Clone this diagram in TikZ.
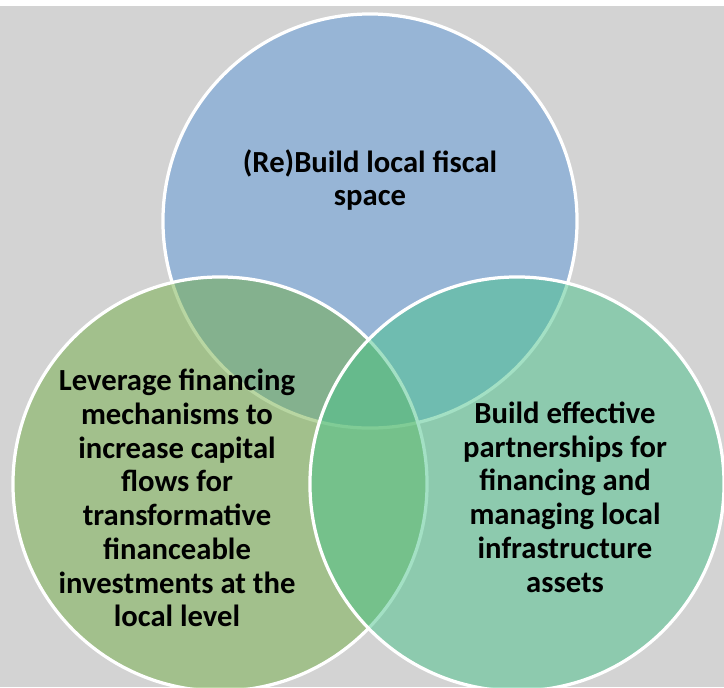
\documentclass[tikz,border=0pt]{standalone}
\usepackage{fontspec}
\setmainfont{Carlito}
\usepackage{xcolor}
\usepackage{tikz}
\usetikzlibrary{positioning}

\definecolor{vennbg}{RGB}{211,211,211}
\definecolor{fiscalblue}{RGB}{93,153,217}
\definecolor{leveragegreen}{RGB}{115,175,71}
\definecolor{partnerteal}{RGB}{73,195,139}

\begin{document}
\begin{tikzpicture}[
			x=0.025cm,
			y=-0.025cm,
			venn/.style={
				circle,
				draw=white,
				line width=2.3pt,
				fill opacity=0.5,
				minimum size=10.35cm,
				inner sep=0pt
			},
			venntext/.style={
				align=center,
				inner sep=0pt,
				font=\fontsize{21.8}{24}\selectfont\bfseries
			}
			]
			
			%=====================================================================
			% Background
			%=====================================================================
			
			\useasboundingbox (0,0) rectangle (724,687);
			\fill[white] (0,0) rectangle (724,6);
			\fill[vennbg] (0,6) rectangle (724,687);
			
			%=====================================================================
			% Circles
			%=====================================================================
			
			\node[venn, fill=fiscalblue] (fiscal) at (370,221) {};
			\node[venn, fill=leveragegreen] (leverage) at (220,484) {};
			\node[venn, fill=partnerteal] (partner) at (517,484) {};
			
			%=====================================================================
			% Texts
			%=====================================================================
			
			\node[venntext] (fiscaltext) at (370,180)
			{(Re)Build local fiscal\\space};
			
			\node[venntext] (leveragetext) at (177,498)
			{Leverage financing\\mechanisms to\\increase capital\\
				flows for\\transformative\\financeable\\
				investments at the\\local level};
			
			\node[venntext] (partnertext) at (565,497)
			{Build effective\\partnerships for\\financing and\\
				managing local\\infrastructure\\assets};
			
		\end{tikzpicture}
\end{document}
